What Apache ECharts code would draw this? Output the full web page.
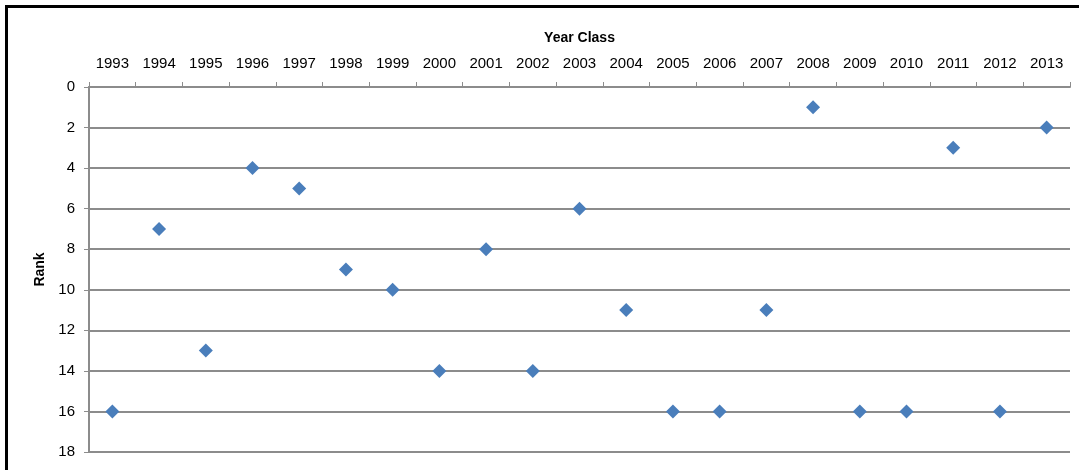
<!DOCTYPE html>
<html>
<head>
<meta charset="utf-8">
<script src="https://cdn.jsdelivr.net/npm/echarts@6/dist/echarts.min.js"></script>
<style>
html,body{margin:0;padding:0;background:#fff;}
#chart{position:absolute;left:0;top:0;width:1079px;height:470px;}
#frame{position:absolute;left:5px;top:5px;width:1074px;height:470px;border-left:3px solid #000;border-top:3px solid #000;box-sizing:border-box;pointer-events:none;}
</style>
</head>
<body>
<div id="chart"></div>
<div id="frame"></div>
<script>
const years = ['1993','1994','1995','1996','1997','1998','1999','2000','2001','2002','2003','2004','2005','2006','2007','2008','2009','2010','2011','2012','2013'];
const ranks = [16,7,13,4,5,9,10,14,8,14,6,11,16,16,11,1,16,16,3,16,2];
const xTitle = 'Year Class';
const yTitle = 'Rank';

const chart = echarts.init(document.getElementById('chart'));
const font = 'Liberation Sans';
chart.setOption({
  animation: false,
  grid: {left: 89, right: 9, top: 87, bottom: 18},
  xAxis: {
    type: 'category',
    position: 'top',
    data: years,
    boundaryGap: true,
    name: xTitle,
    nameLocation: 'middle',
    nameGap: 42,
    nameTextStyle: {fontFamily: font, fontSize: 14, fontWeight: 'bold', color: '#000'},
    axisLine: {lineStyle: {color: '#8c8c8c', width: 2}},
    axisTick: {show: true, length: 5, lineStyle: {color: '#8c8c8c', width: 1}},
    axisLabel: {fontFamily: font, fontSize: 15, color: '#000', margin: 16, interval: 0},
    splitLine: {show: false}
  },
  yAxis: {
    type: 'value',
    inverse: true,
    min: 0,
    max: 18,
    interval: 2,
    name: yTitle,
    nameLocation: 'middle',
    nameGap: 40,
    nameRotate: 90,
    nameTextStyle: {fontFamily: font, fontSize: 14, fontWeight: 'bold', color: '#000'},
    axisLine: {show: true, lineStyle: {color: '#8c8c8c', width: 2}},
    axisTick: {show: true, length: 5, lineStyle: {color: '#8c8c8c', width: 1}},
    axisLabel: {fontFamily: font, fontSize: 15, color: '#000', margin: 14},
    splitLine: {show: true, lineStyle: {color: '#8c8c8c', width: 2}}
  },
  series: [{
    type: 'scatter',
    data: ranks,
    symbol: 'diamond',
    symbolSize: 14,
    itemStyle: {color: '#4a7ebb', opacity: 1}
  }]
});
</script>
</body>
</html>
